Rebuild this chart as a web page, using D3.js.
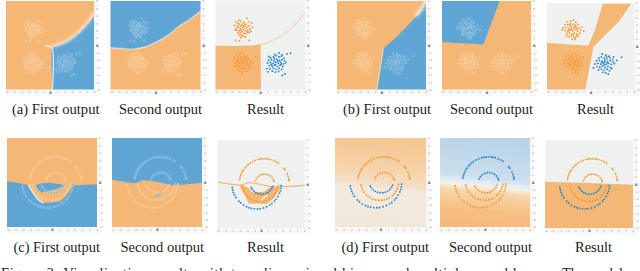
<!DOCTYPE html>
<html>
<head>
<meta charset="utf-8">
<title>Two-dimensional outputs</title>
<script src="https://d3js.org/d3.v7.min.js"></script>
<style>
  html, body { margin: 0; padding: 0; background: #fff; overflow: hidden; }
  svg { display: block; }
  .cap { font-family: "Liberation Serif", serif; font-size: 14.2px; fill: #222; }
  .axis text { font-family: "DejaVu Sans", sans-serif; font-size: 2.8px; fill: #9a9a9a; }
  .axis line { stroke: #cfcfcf; stroke-width: 0.4; }
  .axis path { stroke: none; }
</style>
</head>
<body>
<svg id="chart" width="640" height="271"></svg>
<script>
// tick values shared by all the small plots
var tickValues = [-6, -5, -4, -3, -2, -1, 0, 1, 2, 3, 4, 5, 6];

// captions
var captions = ["(a) First output", "Second output", "Result",
                "(b) First output", "Second output", "Result",
                "(c) First output", "Second output", "Result",
                "(d) First output", "Second output", "Result"];

// blobs dataset, row 1 left
var aTopLeft = [[-3.3,3.12],[-3.02,2.95],[-2.63,3.2],[-2.18,3.03],[-1.8,3.6],[-1.58,3.15],[-1.15,2.98],[-3.45,2.68],[-3.06,2.58],[-2.82,2.83],[-2.48,2.72],[-2.24,2.55],[-1.92,2.82],[-1.52,2.6],[-3.22,2.27],[-2.93,2.42],[-2.71,2.18],[-2.37,2.38],[-2.06,2.28],[-1.78,2.43],[-1.36,2.2],[-1.02,2.38],[-3.14,1.98],[-2.84,1.88],[-2.57,2.03],[-2.28,2.11],[-1.97,1.9],[-1.66,2.02],[-3.03,1.62],[-2.72,1.7],[-2.42,1.78],[-2.17,1.58],[-1.88,1.52],[-1.48,1.68],[-2.81,1.32],[-2.53,1.42],[-2.22,1.2],[-2.62,1.02],[-1.98,1.08],[-3.3,0.6],[-2.8,0.55],[-1.5,0.6],[-2.65,2.52],[-2.05,2.65],[-3.35,2.0],[-1.25,1.85],[-2.35,2.85],[-2.9,3.3],[-1.7,1.75],[-2.45,1.22]];
var aBottomLeft = [[-3.2,-1.28],[-2.62,-1.02],[-2.2,-1.2],[-1.92,-1.52],[-3.45,-1.72],[-3.03,-1.58],[-2.72,-1.42],[-2.38,-1.6],[-2.03,-1.72],[-1.62,-1.8],[-3.62,-2.1],[-3.24,-2.02],[-2.92,-1.9],[-2.55,-2.05],[-2.24,-1.96],[-1.9,-2.12],[-1.48,-2.0],[-1.16,-2.22],[-3.38,-2.42],[-3.06,-2.3],[-2.78,-2.45],[-2.46,-2.38],[-2.12,-2.5],[-1.76,-2.36],[-1.38,-2.52],[-0.98,-2.42],[-3.5,-2.8],[-3.12,-2.72],[-2.84,-2.86],[-2.5,-2.74],[-2.2,-2.9],[-1.82,-2.78],[-1.46,-2.92],[-3.02,-3.18],[-2.66,-3.08],[-2.36,-3.24],[-2.0,-3.14],[-1.62,-3.28],[-1.25,-3.12],[-2.76,-3.52],[-2.26,-3.62],[-1.82,-3.56],[-2.98,-2.12],[-2.34,-2.22],[-1.62,-2.62],[-3.32,-3.02],[-2.58,-1.75],[-1.8,-1.95],[-0.62,-1.62],[-2.45,-3.82]];
var aBottomRight = [[1.95,-1.28],[2.52,-1.08],[2.95,-1.3],[3.6,-1.2],[4.07,-1.1],[1.38,-1.72],[1.78,-1.58],[2.16,-1.45],[2.52,-1.62],[2.84,-1.52],[3.18,-1.78],[1.12,-2.06],[1.52,-1.98],[1.86,-2.12],[2.22,-1.92],[2.6,-2.08],[2.92,-1.98],[3.28,-2.14],[0.98,-2.42],[1.36,-2.36],[1.72,-2.5],[2.06,-2.32],[2.42,-2.46],[2.76,-2.36],[3.12,-2.52],[3.42,-2.38],[1.22,-2.78],[1.6,-2.86],[1.94,-2.72],[2.3,-2.88],[2.66,-2.74],[3.02,-2.9],[0.88,-3.18],[1.3,-3.22],[1.78,-3.12],[2.14,-3.28],[2.52,-3.14],[2.88,-3.3],[1.62,-3.5],[2.02,-3.66],[2.46,-3.58],[3.3,-3.9],[2.95,-4.1],[1.15,-1.55],[2.36,-2.16],[2.04,-2.66],[1.48,-2.62],[2.82,-2.6],[1.9,-1.82],[1.02,-3.62]];

// blobs dataset, row 1 right
var bTopLeft = [[-3.2,3.38],[-2.76,3.5],[-2.36,3.62],[-2.02,3.32],[-3.52,3.02],[-3.14,2.94],[-2.82,3.12],[-2.44,3.06],[-2.08,2.92],[-1.72,3.02],[-3.76,2.56],[-3.36,2.62],[-3.02,2.46],[-2.68,2.68],[-2.32,2.54],[-1.98,2.66],[-1.58,2.5],[-1.22,2.66],[-3.48,2.2],[-3.12,2.08],[-2.8,2.26],[-2.46,2.14],[-2.14,2.3],[-1.78,2.12],[-1.36,2.24],[-0.92,2.12],[-3.26,1.76],[-2.92,1.84],[-2.58,1.68],[-2.24,1.82],[-1.9,1.66],[-1.52,1.8],[-3.02,1.36],[-2.66,1.44],[-2.3,1.28],[-1.96,1.4],[-2.52,1.02],[-2.14,0.92],[-2.78,2.94],[-2.2,2.7],[-1.88,2.4],[-2.98,2.22],[-3.92,2.28],[-2.62,2.36],[-2.38,1.62],[-1.68,1.42],[-3.3,1.42],[-2.08,1.1]];
var bBottomLeft = [[-3.1,-1.18],[-2.62,-1.08],[-2.18,-1.02],[-1.82,-1.28],[-3.42,-1.52],[-3.02,-1.62],[-2.7,-1.42],[-2.34,-1.58],[-1.98,-1.46],[-1.5,-1.62],[-3.68,-1.96],[-3.28,-1.88],[-2.94,-2.02],[-2.58,-1.86],[-2.26,-2.0],[-1.9,-1.84],[-1.44,-1.98],[-3.48,-2.32],[-3.1,-2.4],[-2.76,-2.26],[-2.44,-2.42],[-2.08,-2.28],[-1.72,-2.44],[-1.3,-2.3],[-1.02,-1.52],[-3.3,-2.76],[-2.96,-2.68],[-2.62,-2.84],[-2.28,-2.7],[-1.92,-2.86],[-1.52,-2.72],[-3.02,-3.12],[-2.68,-3.24],[-2.32,-3.08],[-1.98,-3.26],[-1.58,-3.14],[-2.5,-3.62],[-2.06,-3.56],[-1.72,-3.82],[-2.84,-1.78],[-2.16,-2.14],[-2.8,-2.54],[-1.8,-2.08],[-2.44,-3.0],[-3.7,-2.5],[-1.2,-2.7],[-2.48,-1.3],[-2.0,-2.6]];
var bBottomRight = [[1.62,-1.08],[2.1,-1.2],[2.52,-1.38],[3.18,-1.5],[4.28,-1.52],[1.14,-1.62],[1.5,-1.48],[1.88,-1.62],[2.26,-1.72],[2.68,-1.58],[3.06,-1.82],[0.82,-2.02],[1.24,-1.96],[1.62,-2.08],[1.98,-1.94],[2.36,-2.1],[2.74,-1.98],[3.12,-2.14],[3.62,-1.96],[0.62,-2.46],[1.04,-2.38],[1.42,-2.5],[1.78,-2.36],[2.14,-2.52],[2.5,-2.38],[2.88,-2.54],[3.3,-2.4],[0.9,-2.82],[1.28,-2.92],[1.66,-2.76],[2.02,-2.94],[2.4,-2.8],[2.76,-2.96],[1.12,-3.28],[1.52,-3.18],[1.9,-3.34],[2.28,-3.2],[2.62,-3.4],[1.72,-3.62],[2.12,-3.72],[2.46,-3.86],[1.96,-2.22],[1.54,-2.22],[2.3,-2.3],[0.42,-3.02],[2.2,-1.42],[1.86,-2.6],[2.94,-3.1]];

// rings dataset, row 2
var outerTop = [[-2.95,0.6],[-2.88,0.89],[-2.79,1.18],[-2.68,1.46],[-2.54,1.73],[-2.41,1.93],[-2.19,2.22],[-1.99,2.44],[-1.77,2.64],[-1.53,2.83],[-1.17,3.05],[-0.84,3.2],[-0.44,3.33],[-0.15,3.4],[0.15,3.44],[0.45,3.45],[0.81,3.43],[1.05,3.4],[1.34,3.33],[1.74,3.2],[2.07,3.05],[2.38,2.86],[3.17,2.12],[3.31,1.93],[3.6,1.4],[3.73,1.07],[3.82,0.72],[3.87,0.48]];
var innerTop = [[-0.77,0.46],[-0.61,0.77],[-0.37,1.03],[-0.07,1.22],[0.27,1.33],[0.62,1.34],[0.96,1.27],[1.27,1.11],[1.53,0.87],[1.72,0.57],[1.8,0.35]];
var smallBottom = [[-1.35,-0.48],[-1.21,-0.72],[-0.97,-0.99],[-0.7,-1.19],[-0.39,-1.32],[-0.04,-1.39],[0.32,-1.38],[0.65,-1.3],[0.95,-1.16],[1.23,-0.93],[1.46,-0.65],[1.6,-0.35]];
var midBottom = [[-2.56,-0.33],[-2.48,-0.67],[-2.35,-1.0],[-2.17,-1.3],[-1.9,-1.64],[-1.64,-1.87],[-1.35,-2.07],[-0.95,-2.25],[-0.62,-2.35],[-0.19,-2.4],[0.16,-2.39],[0.5,-2.33],[0.84,-2.22],[1.15,-2.07],[1.57,-1.76],[1.82,-1.51],[2.02,-1.22],[2.18,-0.92],[2.3,-0.59],[2.38,-0.25]];
var largeBottom = [[-3.97,-0.47],[-3.9,-0.82],[-3.8,-1.16],[-3.66,-1.49],[-3.45,-1.85],[-3.05,-2.36],[-2.79,-2.6],[-2.4,-2.88],[-1.98,-3.11],[-1.65,-3.23],[-1.31,-3.33],[-0.9,-3.39],[-0.48,-3.4],[-0.13,-3.37],[0.34,-3.27],[0.78,-3.11],[1.2,-2.88],[1.49,-2.68],[1.85,-2.36],[2.08,-2.09],[2.34,-1.7],[2.55,-1.27],[2.67,-0.94],[2.75,-0.59],[2.79,-0.24]];

// decision regions
var a1Blue = [[0.3,-6.2],[0.18,-0.3],[1.1,-0.05],[2.27,0.45],[3.2,1.05],[4.1,1.8],[5.1,2.85],[6.2,4.2],[6.2,-6.2]];
var a1Edge = [[0.3,-6.2],[0.2,-0.3],[-0.7,-0.05]];
var a1EdgeSoft = [[0.2,-0.2],[1.1,0.05],[2.27,0.55],[3.2,1.15],[4.1,1.95],[5.1,3.05],[6.2,4.5]];
var a2Blue = [[-6.2,-0.3],[-4.5,-0.45],[-3,-0.53],[-1.3,-0.2],[0.15,0.45],[1.8,1.45],[3.27,2.67],[4.7,3.6],[6.2,4.8],[6.2,6.2],[-6.2,6.2]];
var a2Edge = [[-6.2,-0.3],[-4.5,-0.45],[-3,-0.53],[-1.3,-0.2],[0.15,0.45],[1.8,1.45],[3.27,2.67],[4.7,3.6],[6.2,4.8]];
var a3Orange = [[-6.2,-0.1],[-3,-0.12],[-1,-0.05],[0.05,0],[0.1,-6.2],[-6.2,-6.2]];
var a3Band = [[-0.5,0],[0.6,0.15],[1.5,0.55],[2.6,1.1],[3.5,1.7],[4.8,2.9],[6.2,4.5]];
var b1Blue = [[-0.65,-6.2],[0.25,-0.45],[2.27,1.35],[3.8,3],[5.2,4.5],[6.2,6.2],[6.2,-6.2]];
var b1Edge = [[-0.65,-6.2],[0.25,-0.45]];
var b1EdgeSoft = [[4.6,3.9],[5.4,4.9],[6.2,6.2]];
var b2Blue = [[-6.2,0.45],[-0.43,0.1],[1.85,6.2],[-6.2,6.2]];
var b3Orange = [[-6.2,0.5],[-2.5,0.2],[-0.3,0.1],[0.6,2.2],[1.7,5.9],[5.6,5.9],[4.0,3.5],[2.2,1.75],[0.4,-0.1],[-0.75,-6.2],[-6.2,-6.2]];
var c1Orange = [[-6.2,0.2],[-4.27,-0.11],[-3.16,-0.33],[-2.49,-1.44],[-1.82,-2.33],[-1.16,-2.78],[1.07,-2.56],[1.96,-1.67],[2.84,-0.42],[4.5,-0.3],[6.2,-0.24],[6.2,6.2],[-6.2,6.2]];
var c1Lens = [[-2.13,-0.33],[-1.38,-0.11],[-0.27,-0.02],[1.73,-0.33],[0.62,-0.91],[-1.38,-1.31],[-1.96,-0.87]];
var c1Edge = [[-3.16,-0.33],[-2.49,-1.44],[-1.82,-2.33],[-1.16,-2.78]];
var c2Blue = [[-6.2,0.42],[-4.04,0.02],[-2.93,-0.11],[-1.82,0.33],[-0.04,0.11],[2.18,-0.42],[6.2,-0.02],[6.2,6.2],[-6.2,6.2]];
var c2Sliver = [[-0.27,-2.11],[0.84,-1.31],[0.6,-1.05],[-0.1,-1.7]];
var c3Band = [[-6.2,0.32],[-2.8,-0.14],[-1.67,0.18],[1.53,-0.37],[2.9,-0.37],[6.2,-0.14]];
var c3Orange = [[-3.04,-0.14],[-1.67,-2.65],[0.84,-2.74],[1.76,-1.96],[2.67,-0.5],[1.3,-0.37],[0.39,-1.05],[-1.21,-1.14],[-1.89,-0.37]];
var c3Sliver = [[0.0,-2.25],[0.9,-1.45]];
var d3Orange = [[-6.2,0.3],[0,0.12],[6.2,-0.1],[6.2,-6.2],[-6.2,-6.2]];

var ORANGE = "#f5b774", BLUE = "#5fa6d5", GREY = "#eff1f0";
var DOT_O = "#f49a38", DOT_B = "#2b86c7";

var svg = d3.select("#chart");
var defs = svg.append("defs");

function addBlur(id, dev) {
  defs.append("filter").attr("id", id)
    .attr("x", "-20%").attr("y", "-20%").attr("width", "140%").attr("height", "140%")
    .append("feGaussianBlur").attr("stdDeviation", dev);
}
addBlur("soft", 0.35);
addBlur("edge", 0.7);
addBlur("wide", 1.6);

function addGradient(id, stops) {
  var g = defs.append("linearGradient").attr("id", id)
    .attr("x1", 0.1).attr("y1", 0).attr("x2", 0).attr("y2", 1);
  stops.forEach(function (s) {
    g.append("stop").attr("offset", s[0]).attr("stop-color", s[1]);
  });
}
addGradient("d1Fill", [[0, "#f6c690"], [0.3, "#f6d2a8"], [0.47, "#f4dfc6"], [0.53, "#f3eadf"], [1, "#f1e6d9"]]);
addGradient("d2Fill", [[0, "#b8d3e8"], [0.4, "#cbdfed"], [0.47, "#e6eef2"], [0.5, "#f8efe4"], [0.56, "#f7d6ad"], [0.75, "#f6c085"], [1, "#f5b876"]]);

// one small plot
function smallPlot(p, i) {
  var x = d3.scaleLinear().domain([-6, 6]).range([p.x0, p.x1]);
  var y = d3.scaleLinear().domain([-6, 6]).range([p.y1, p.y0]);
  var line = d3.line().x(function (d) { return x(d[0]); }).y(function (d) { return y(d[1]); });
  var smooth = d3.line().x(function (d) { return x(d[0]); }).y(function (d) { return y(d[1]); }).curve(d3.curveCatmullRom);

  var root = svg.append("g");

  // faint strip behind the tick labels
  root.append("rect").attr("x", p.x0).attr("y", p.y0)
    .attr("width", p.x1 - p.x0 + 5).attr("height", p.y1 - p.y0 + 6.5)
    .attr("fill", "#f8f8f8");

  defs.append("clipPath").attr("id", "clip" + i).append("rect")
    .attr("x", p.x0).attr("y", p.y0).attr("width", p.x1 - p.x0).attr("height", p.y1 - p.y0);

  var g = root.append("g").attr("clip-path", "url(#clip" + i + ")");
  var inner = g.append("g").attr("filter", "url(#soft)");

  inner.append("rect").attr("x", p.x0 - 3).attr("y", p.y0 - 3)
    .attr("width", p.x1 - p.x0 + 6).attr("height", p.y1 - p.y0 + 6)
    .attr("fill", p.base);

  (p.areas || []).forEach(function (a) {
    inner.append("path").attr("d", line(a.pts) + "Z").attr("fill", a.fill);
  });
  (p.halos || []).forEach(function (h) {
    g.append("path").attr("d", smooth(h.pts)).attr("fill", "none")
      .attr("stroke", "#fff").attr("stroke-width", h.w).attr("stroke-opacity", h.o)
      .attr("filter", "url(#" + h.blur + ")");
  });
  (p.bands || []).forEach(function (b) {
    inner.append("path").attr("d", smooth(b.pts)).attr("fill", "none")
      .attr("stroke", b.color).attr("stroke-width", b.w).attr("stroke-opacity", b.o);
  });

  // the data points
  p.dots.forEach(function (d) {
    g.selectAll(null).data(d.pts).enter().append("circle")
      .attr("cx", function (v) { return x(v[0]); })
      .attr("cy", function (v) { return y(v[1]); })
      .attr("r", p.plain ? 0.95 : 0.85)
      .attr("fill", d.color)
      .attr("stroke", p.plain ? "none" : "#fff")
      .attr("stroke-opacity", 0.85)
      .attr("stroke-width", 0.45);
  });

  // axes on the right and at the bottom
  var right = root.append("g").attr("class", "axis")
    .attr("transform", "translate(" + p.x1 + ",0)")
    .call(d3.axisRight(y).tickValues(tickValues).tickSize(1).tickPadding(1));
  var bottom = root.append("g").attr("class", "axis")
    .attr("transform", "translate(0," + p.y1 + ")")
    .call(d3.axisBottom(x).tickValues(tickValues).tickSize(1).tickPadding(1));
  [right, bottom].forEach(function (ax) {
    ax.selectAll("text").filter(function (d) { return d === 0; })
      .style("fill", "#444").style("font-weight", "bold").style("font-size", "3.4px");
  });

  // caption
  svg.append("text").attr("class", "cap")
    .attr("x", (p.capX0 + p.capX1) / 2).attr("y", p.capY)
    .attr("text-anchor", "middle")
    .attr("textLength", p.capX1 - p.capX0).attr("lengthAdjust", "spacingAndGlyphs")
    .text(captions[i]);
}

function dots(a, b, c, colors) {
  return [{ pts: a, color: colors[0] }, { pts: b, color: colors[1] }, { pts: c, color: colors[2] }];
}
function rings(colors) {
  return [{ pts: outerTop, color: colors[0] }, { pts: innerTop, color: colors[0] },
          { pts: smallBottom, color: colors[1] }, { pts: midBottom, color: colors[2] },
          { pts: largeBottom, color: colors[1] }];
}

var panels = [
  { x0: 6, x1: 94, y0: 1, y1: 89.5, capX0: 12, capX1: 99.5, capY: 114, base: ORANGE,
    areas: [{ pts: a1Blue, fill: BLUE }],
    halos: [{ pts: a1Edge, w: 1.4, o: 0.7, blur: "edge" }, { pts: a1EdgeSoft, w: 2.6, o: 0.7, blur: "wide" }],
    dots: dots(aTopLeft, aBottomLeft, aBottomRight, [DOT_O, DOT_O, DOT_B]) },
  { x0: 110.5, x1: 200.5, y0: 1, y1: 89.5, capX0: 119, capX1: 202, capY: 114, base: ORANGE,
    areas: [{ pts: a2Blue, fill: BLUE }],
    halos: [{ pts: a2Edge, w: 1.4, o: 0.5, blur: "edge" }],
    dots: dots(aTopLeft, aBottomLeft, aBottomRight, [DOT_B, DOT_O, DOT_O]) },
  { x0: 215.5, x1: 305, y0: 0.5, y1: 89.5, capX0: 247, capX1: 284, capY: 114, base: GREY, plain: true,
    areas: [{ pts: a3Orange, fill: ORANGE }],
    bands: [{ pts: a3Band, color: ORANGE, w: 1, o: 0.75 }],
    dots: dots(aTopLeft, aBottomLeft, aBottomRight, [DOT_O, DOT_O, DOT_B]) },
  { x0: 337, x1: 426, y0: 1, y1: 89.5, capX0: 343, capX1: 431, capY: 114, base: ORANGE,
    areas: [{ pts: b1Blue, fill: BLUE }],
    halos: [{ pts: b1Edge, w: 1, o: 0.6, blur: "edge" }, { pts: b1EdgeSoft, w: 3, o: 0.8, blur: "wide" }],
    dots: dots(bTopLeft, bBottomLeft, bBottomRight, [DOT_O, DOT_O, DOT_B]) },
  { x0: 442, x1: 531, y0: 1, y1: 89.5, capX0: 450, capX1: 533, capY: 114, base: ORANGE,
    areas: [{ pts: b2Blue, fill: BLUE }],
    dots: dots(bTopLeft, bBottomLeft, bBottomRight, [DOT_B, DOT_O, DOT_O]) },
  { x0: 547, x1: 634, y0: 3, y1: 89.5, capX0: 577, capX1: 614, capY: 114, base: GREY, plain: true,
    areas: [{ pts: b3Orange, fill: ORANGE }],
    dots: dots(bTopLeft, bBottomLeft, bBottomRight, [DOT_O, DOT_O, DOT_B]) },
  { x0: 7, x1: 97, y0: 138, y1: 227, capX0: 13.5, capX1: 100, capY: 252, base: BLUE,
    areas: [{ pts: c1Orange, fill: ORANGE }, { pts: c1Lens, fill: BLUE }],
    halos: [{ pts: c1Edge, w: 1.4, o: 0.8, blur: "edge" }],
    dots: rings([DOT_O, DOT_B, DOT_O]) },
  { x0: 112, x1: 202, y0: 138, y1: 227, capX0: 120.5, capX1: 204, capY: 252, base: ORANGE,
    areas: [{ pts: c2Blue, fill: BLUE }, { pts: c2Sliver, fill: "#8dbcd8" }],
    dots: rings([DOT_B, DOT_O, DOT_O]) },
  { x0: 217.5, x1: 304.5, y0: 140, y1: 228, capX0: 247, capX1: 284, capY: 252, base: GREY, plain: true,
    areas: [{ pts: c3Orange, fill: ORANGE }],
    bands: [{ pts: c3Band, color: ORANGE, w: 1.3, o: 1 }, { pts: c3Sliver, color: GREY, w: 1.3, o: 1 }],
    dots: rings([DOT_O, DOT_B, DOT_O]) },
  { x0: 335, x1: 426, y0: 138, y1: 227, capX0: 341.5, capX1: 429, capY: 252, base: "url(#d1Fill)", plain: true,
    dots: rings([DOT_O, DOT_B, DOT_O]) },
  { x0: 440, x1: 530, y0: 138, y1: 227, capX0: 449, capX1: 532, capY: 252, base: "url(#d2Fill)", plain: true,
    dots: rings([DOT_B, DOT_O, DOT_O]) },
  { x0: 545, x1: 633, y0: 140, y1: 228, capX0: 575, capX1: 612, capY: 252, base: GREY, plain: true,
    areas: [{ pts: d3Orange, fill: ORANGE }],
    dots: rings([DOT_O, DOT_B, DOT_O]) }
];

panels.forEach(smallPlot);

// the figure note, cut off by the bottom of the image as in the source
svg.append("text").attr("class", "cap").attr("x", 1).attr("y", 277.5)
  .attr("textLength", 545).attr("lengthAdjust", "spacing")
  .text("Figure 3: Visualization results with two-dimensional binary and multiclass problems.");
svg.append("text").attr("class", "cap").attr("x", 562).attr("y", 277.5)
  .text("The model");
</script>
</body>
</html>
